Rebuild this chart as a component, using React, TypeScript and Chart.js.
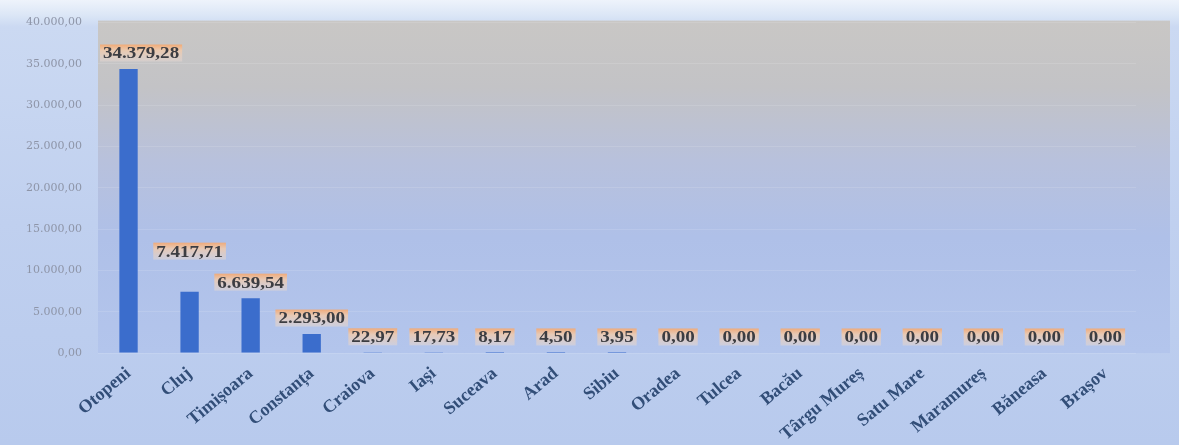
import React, { useEffect, useRef } from "react";
import { Chart, registerables } from "chart.js";

Chart.register(...registerables);

const categories: string[] = [
  "Otopeni", "Cluj", "Timișoara", "Constanța", "Craiova", "Iași", "Suceava", "Arad", "Sibiu",
  "Oradea", "Tulcea", "Bacău", "Târgu Mureș", "Satu Mare", "Maramureș", "Băneasa", "Brașov",
];
const values: number[] = [
  34379.28, 7417.71, 6639.54, 2293.0, 22.97, 17.73, 8.17, 4.5, 3.95,
  0, 0, 0, 0, 0, 0, 0, 0,
];
const yMax = 40000;
const yStep = 5000;

function fmt(v: number): string {
  const fixed = Math.abs(v).toFixed(2);
  const [intPart, dec] = fixed.split(".");
  const withDots = intPart.replace(/\B(?=(\d{3})+(?!\d))/g, ".");
  return (v < 0 ? "-" : "") + withDots + "," + dec;
}

const backgroundPlugin = {
  id: "bgPlugin",
  beforeDraw(chart: any) {
    const { ctx, chartArea, width, height } = chart;
    ctx.save();
    const g = ctx.createLinearGradient(0, 0, 0, height);
    g.addColorStop(0, "#eef3fb");
    g.addColorStop(0.035, "#dbe6f6");
    g.addColorStop(0.06, "#cbd9f2");
    g.addColorStop(0.5, "#c0d0ef");
    g.addColorStop(1, "#b8caed");
    ctx.fillStyle = g;
    ctx.fillRect(0, 0, width, height);
    const top = chartArea.top - 2;
    const right = width - 9;
    const pg = ctx.createLinearGradient(0, top, 0, chartArea.bottom);
    pg.addColorStop(0, "#c9c7c5");
    pg.addColorStop(0.2, "#c3c3c6");
    pg.addColorStop(0.42, "#b8c1dc");
    pg.addColorStop(0.65, "#afc0e8");
    pg.addColorStop(1, "#b3c5ec");
    ctx.fillStyle = pg;
    ctx.fillRect(chartArea.left, top, right - chartArea.left, chartArea.bottom - top);
    ctx.restore();
  },
};

const labelPlugin = {
  id: "labelPlugin",
  afterDatasetsDraw(chart: any) {
    const { ctx, chartArea } = chart;
    const meta = chart.getDatasetMeta(0);
    const ds = chart.data.datasets[0].data as number[];
    const sx = 1.12;
    const h = 17;
    ctx.save();
    ctx.font = "bold 17px 'Liberation Serif', serif";
    const boxes: { x: number; y: number; w: number; text: string }[] = [];
    for (let i = meta.data.length - 1; i >= 0; i--) {
      const bar = meta.data[i];
      const text = fmt(ds[i]);
      const w = ctx.measureText(text).width * sx + 6;
      let x = bar.x - w / 2;
      if (x < chartArea.left + 2) x = chartArea.left + 2;
      let y = bar.y - 16 - h / 2;
      for (const b of boxes) {
        const hOverlap = x < b.x + b.w && x + w > b.x;
        const vOverlap = y < b.y + h && y + h > b.y;
        if (hOverlap && vOverlap) y = b.y - h - 14;
      }
      boxes.push({ x, y, w, text });
    }
    for (const b of boxes) {
      const grad = ctx.createLinearGradient(0, b.y, 0, b.y + h);
      grad.addColorStop(0, "rgba(246,168,110,0.9)");
      grad.addColorStop(0.35, "rgba(240,202,172,0.85)");
      grad.addColorStop(1, "rgba(226,214,210,0.55)");
      ctx.fillStyle = grad;
      ctx.fillRect(b.x, b.y, b.w, h);
      ctx.save();
      ctx.translate(b.x + b.w / 2, b.y + h / 2 + 1);
      ctx.scale(sx, 1);
      ctx.fillStyle = "#3c3d42";
      ctx.textAlign = "center";
      ctx.textBaseline = "middle";
      ctx.fillText(b.text, 0, 0);
      ctx.restore();
    }
    ctx.restore();
  },
};

export default function App() {
  const ref = useRef<HTMLCanvasElement | null>(null);
  useEffect(() => {
    document.body.style.margin = "0";
    if (!ref.current) return;
    const chart = new Chart(ref.current, {
      type: "bar",
      data: {
        labels: categories,
        datasets: [
          {
            data: values,
            backgroundColor: "#3b6dcc",
            borderWidth: 0,
            barPercentage: 0.3,
            categoryPercentage: 1,
          },
        ],
      },
      options: {
        animation: false,
        responsive: false,
        maintainAspectRatio: false,
        layout: { padding: { top: 22, right: 43, left: 0, bottom: 0 } },
        plugins: { legend: { display: false }, tooltip: { enabled: false } },
        scales: {
          x: {
            grid: { display: false },
            border: { display: false },
            ticks: {
              color: "#324e78",
              font: { family: "'Liberation Serif', serif", size: 18, weight: "bold" },
              minRotation: 40,
              maxRotation: 40,
              padding: 2,
              autoSkip: false,
            },
            afterFit(scale: any) {
              scale.height = 92;
            },
          },
          y: {
            min: 0,
            max: yMax,
            grid: { color: "rgba(255,255,255,0.12)", drawTicks: false },
            border: { display: false },
            ticks: {
              stepSize: yStep,
              color: "#8e95a8",
              padding: 16,
              font: { family: "'DejaVu Serif', serif", size: 11 },
              callback: (v: any) => fmt(Number(v)),
            },
            afterFit(scale: any) {
              scale.width = 98;
            },
          },
        },
      },
      plugins: [backgroundPlugin, labelPlugin],
    });
    return () => chart.destroy();
  }, []);
  return <canvas ref={ref} width={1179} height={445} style={{ display: "block" }} />;
}
